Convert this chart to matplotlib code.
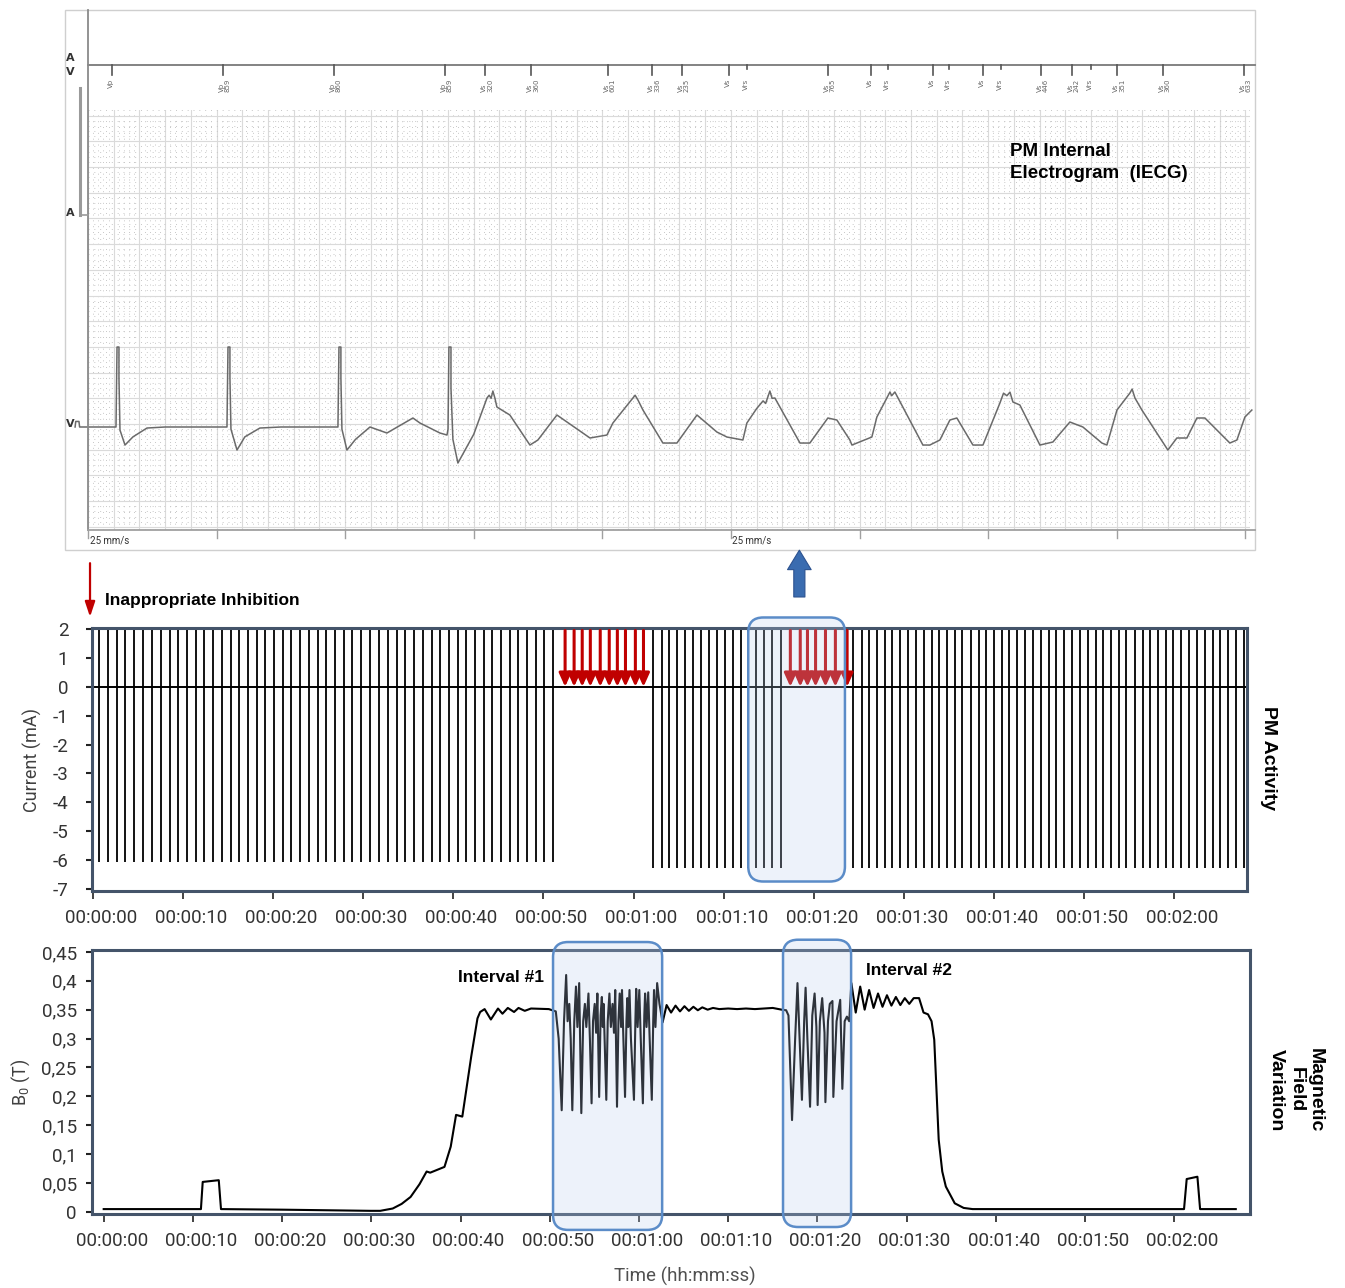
import matplotlib
matplotlib.use("Agg")
import matplotlib.pyplot as plt
from matplotlib.patches import FancyBboxPatch, Rectangle
from matplotlib.transforms import ScaledTranslation, blended_transform_factory
from matplotlib.ticker import MultipleLocator

plt.rcParams['font.family'] = ['Roboto', 'DejaVu Sans']
plt.rcParams['mathtext.default'] = 'regular'

# ---------------- Datos ----------------
# IECG: (tiempo s, tension mV)
ecg_pts = [(-0.10, -0.058), (-0.095, 0.05), (-0.07, 0.05), (-0.065, -0.058),
           (0.0, -0.058), (0.218, -0.058), (0.226, 1.498), (0.241, 1.498), (0.241, 0.9),
           (0.249, -0.117), (0.288, -0.409), (0.35, -0.25), (0.459, -0.078), (0.6, -0.058),
           (1.081, -0.058), (1.089, 1.498), (1.104, 1.498), (1.104, 0.9), (1.112, -0.1),
           (1.159, -0.506), (1.22, -0.25), (1.337, -0.078), (1.5, -0.058),
           (1.944, -0.058), (1.952, 1.498), (1.967, 1.498), (1.967, 0.9), (1.975, -0.1),
           (2.014, -0.506), (2.08, -0.3), (2.193, -0.058), (2.325, -0.175), (2.527, 0.117),
           (2.582, 0.019), (2.737, -0.175), (2.792, -0.214), (2.8, -0.1), (2.807, 1.498),
           (2.823, 1.498), (2.823, 0.7), (2.838, -0.3), (2.877, -0.759), (3.0, -0.2),
           (3.103, 0.506), (3.12, 0.56), (3.135, 0.50), (3.149, 0.642), (3.165, 0.50),
           (3.180, 0.331), (3.281, 0.175), (3.437, -0.409), (3.499, -0.311), (3.647, 0.175),
           (3.904, -0.272), (4.036, -0.214), (4.082, 0.019), (4.238, 0.506), (4.255, 0.56),
           (4.277, 0.467), (4.316, 0.272), (4.471, -0.370), (4.580, -0.370), (4.736, 0.175),
           (4.891, -0.156), (4.969, -0.253), (5.093, -0.311), (5.124, 0.019), (5.2, 0.3),
           (5.25, 0.45), (5.27, 0.40), (5.303, 0.642), (5.32, 0.5), (5.342, 0.506),
           (5.537, -0.370), (5.614, -0.370), (5.754, 0.117), (5.824, 0.078), (5.925, -0.311),
           (5.941, -0.409), (6.096, -0.253), (6.135, 0.136), (6.237, 0.623), (6.25, 0.55),
           (6.275, 0.623), (6.493, -0.409), (6.547, -0.409), (6.625, -0.311), (6.703, 0.078),
           (6.757, 0.117), (6.882, -0.409), (6.960, -0.409), (7.092, 0.409), (7.12, 0.6),
           (7.146, 0.55), (7.17, 0.62), (7.193, 0.428), (7.247, 0.370), (7.403, -0.409),
           (7.504, -0.350), (7.636, 0.039), (7.737, -0.058), (7.885, -0.370), (7.924, -0.409),
           (8.002, 0.272), (8.103, 0.603), (8.12, 0.68), (8.142, 0.506), (8.196, 0.272),
           (8.398, -0.506), (8.468, -0.272), (8.546, -0.272), (8.624, 0.117), (8.686, 0.117),
           (8.880, -0.370), (8.935, -0.311), (8.997, 0.136), (9.051, 0.272)]

ecg_marker_t = [0.187, 1.050, 1.913, 2.776, 3.087, 3.445, 4.044, 4.386, 4.619, 4.984,
                5.124, 5.754, 6.089, 6.221, 6.571, 6.695, 6.960, 7.100, 7.411, 7.652,
                7.800, 8.002, 8.359, 8.989]
ecg_marker_lab = ['Vp', 'Vp\n859', 'Vp\n860', 'Vp\n859', 'Vs\n320', 'Vs\n360', 'Vs\n601',
                  'Vs\n336', 'Vs\n235', 'Vs', 'Vrs', 'Vs\n765', 'Vs', 'Vrs', 'Vs', 'Vrs',
                  'Vs', 'Vrs', 'Vs\n446', 'Vs\n242', 'Vrs', 'Vs\n351', 'Vs\n360', 'Vs\n633']
ecg_sec = [0, 1, 2, 3, 4, 5, 6, 7, 8, 9]

# Actividad del marcapasos (s)
pace_a = [0.7, 1.7, 2.7, 3.6, 4.6, 5.6, 6.5, 7.5, 8.5, 9.4, 10.4, 11.4, 12.3, 13.3, 14.3,
          15.3, 16.2, 17.2, 18.2, 19.1, 20.1, 21.1, 22.0, 23.0, 24.0, 25.0, 25.9, 26.9,
          27.9, 28.8, 29.8, 30.8, 31.7, 32.7, 33.7, 34.6, 35.6, 36.6, 37.6, 38.5, 39.5,
          40.5, 41.4, 42.4, 43.4, 44.3, 45.3, 46.3, 47.2, 48.2, 49.2, 50.1, 51.1]
inhib_a = [52.4, 53.4, 54.3, 55.2, 56.3, 57.3, 58.2, 59.1, 60.2, 61.1]
pace_b = [62.2, 63.1, 63.9, 64.8, 65.7, 66.6, 67.5, 68.4, 69.3, 70.1, 71.0, 71.9, 72.7,
          73.6, 74.5, 75.4, 76.4]
inhib_b = [77.4, 78.5, 79.3, 80.2, 81.3, 82.4, 83.7]
pace_c = [84.4, 85.3, 86.1, 87.0, 87.9, 88.7, 89.6, 90.5, 91.3, 92.2, 93.1, 93.9, 94.8,
          95.7, 96.5, 97.4, 98.3, 99.1, 100.0, 100.9, 101.7, 102.6, 103.5, 104.3, 105.2,
          106.1, 106.9, 107.8, 108.7, 109.5, 110.4, 111.3, 112.1, 113.0, 113.9, 114.7,
          115.6, 116.5, 117.3, 118.2, 119.1, 119.9, 120.8, 121.7, 122.5, 123.4, 124.3,
          125.1, 126.0, 126.9, 127.7]
pace_top = 1.95
pace_low_a = -6.05
pace_low_bc = -6.28

# Campo magnetico B0 (s, T)
b0_rise = [(0.0, 0.005), (10.9, 0.005), (11.1, 0.052), (12.9, 0.055), (13.15, 0.005),
           (20.0, 0.004), (29.9, 0.002), (31.0, 0.002), (32.4, 0.006), (33.4, 0.014),
           (34.4, 0.026), (35.4, 0.048), (36.2, 0.070), (36.6, 0.068), (38.2, 0.078),
           (38.9, 0.113), (39.5, 0.168), (40.2, 0.165), (41.2, 0.269), (41.9, 0.335),
           (42.2, 0.346), (42.7, 0.351), (43.4, 0.333), (44.2, 0.352), (44.7, 0.343),
           (45.3, 0.353), (46.0, 0.346), (46.5, 0.353), (47.2, 0.348), (47.9, 0.352),
           (49.9, 0.351), (50.68, 0.347)]
b0_int1 = [(51.0, 0.30), (51.34, 0.176), (51.6, 0.33), (51.84, 0.410), (52.0, 0.33),
           (52.19, 0.36), (52.35, 0.30), (52.53, 0.176), (52.75, 0.33), (52.94, 0.39),
           (53.1, 0.32), (53.3, 0.396), (53.54, 0.171), (53.75, 0.33), (53.94, 0.36),
           (54.1, 0.32), (54.34, 0.378), (54.5, 0.30), (54.69, 0.188), (54.85, 0.33),
           (55.04, 0.36), (55.2, 0.31), (55.34, 0.378), (55.54, 0.199), (55.7, 0.34),
           (55.84, 0.372), (55.95, 0.32), (56.04, 0.36), (56.34, 0.194), (56.5, 0.33),
           (56.69, 0.378), (56.85, 0.32), (57.04, 0.36), (57.2, 0.31), (57.34, 0.384),
           (57.54, 0.182), (57.7, 0.33), (57.84, 0.378), (58.0, 0.32), (58.1, 0.384),
           (58.44, 0.199), (58.6, 0.33), (58.69, 0.37), (58.8, 0.32), (58.94, 0.384),
           (59.1, 0.30), (59.44, 0.194), (59.6, 0.33), (59.69, 0.386), (59.85, 0.32),
           (60.04, 0.384), (60.2, 0.30), (60.44, 0.188), (60.6, 0.34), (60.69, 0.378),
           (60.85, 0.32), (61.04, 0.380), (61.2, 0.30), (61.44, 0.194), (61.6, 0.33),
           (61.69, 0.384), (61.85, 0.32), (62.04, 0.396), (62.3, 0.36), (62.65, 0.328)]
b0_mid = [(63.1, 0.358), (63.6, 0.345), (64.1, 0.357), (64.6, 0.347), (65.1, 0.356),
          (65.6, 0.348), (66.1, 0.355), (66.6, 0.349), (67.1, 0.354), (67.7, 0.350),
          (68.3, 0.353), (69.0, 0.351), (70.0, 0.352), (71.0, 0.351), (72.0, 0.352),
          (73.0, 0.351), (74.0, 0.352), (75.0, 0.353), (76.0, 0.350), (76.5, 0.349)]
b0_int2 = [(76.76, 0.340), (77.16, 0.159), (77.51, 0.30), (77.77, 0.396), (78.01, 0.30),
           (78.27, 0.194), (78.52, 0.33), (78.68, 0.388), (78.88, 0.30), (79.18, 0.182),
           (79.43, 0.34), (79.69, 0.378), (79.89, 0.32), (80.03, 0.185), (80.28, 0.33),
           (80.54, 0.370), (80.80, 0.31), (80.90, 0.19), (81.19, 0.33), (81.39, 0.36),
           (81.69, 0.365), (81.79, 0.199), (82.15, 0.33), (82.56, 0.367), (82.80, 0.213),
           (83.06, 0.33), (83.31, 0.338), (83.57, 0.33)]
b0_fall = [(83.81, 0.396), (84.3, 0.345), (84.8, 0.39), (85.3, 0.35), (85.8, 0.384),
           (86.3, 0.353), (86.8, 0.378), (87.3, 0.355), (87.8, 0.375), (88.3, 0.357),
           (88.8, 0.372), (89.3, 0.358), (89.8, 0.370), (90.3, 0.36), (90.8, 0.370),
           (91.4, 0.37), (91.9, 0.345), (92.4, 0.342), (92.8, 0.33), (93.1, 0.298),
           (93.6, 0.125), (94.0, 0.07), (94.4, 0.044), (95.4, 0.015), (96.4, 0.007),
           (97.4, 0.005), (110.0, 0.005), (121.1, 0.005), (121.4, 0.057), (122.6, 0.061),
           (122.9, 0.005), (126.9, 0.005)]

time_ticks = [0, 10, 20, 30, 40, 50, 60, 70, 80, 90, 100, 110, 120]
time_labels = ['00:00:00', '00:00:10', '00:00:20', '00:00:30', '00:00:40', '00:00:50',
               '00:01:00', '00:01:10', '00:01:20', '00:01:30', '00:01:40', '00:01:50',
               '00:02:00']
cur_ticks = [2, 1, 0, -1, -2, -3, -4, -5, -6, -7]
cur_labels = ['2', '1', '0', '-1', '-2', '-3', '-4', '-5', '-6', '-7']
b0_ticks = [0, 0.05, 0.1, 0.15, 0.2, 0.25, 0.3, 0.35, 0.4, 0.45]
b0_labels = ['0', '0,05', '0,1', '0,15', '0,2', '0,25', '0,3', '0,35', '0,4', '0,45']

box_mid = (72.73, 83.46, -6.74, 2.40)
box_int1 = (50.37, 62.6, -0.031, 0.467)
box_int2 = (76.15, 83.78, -0.026, 0.471)

# ---------------- Figura ----------------
fig = plt.figure(figsize=(13.45, 12.88), dpi=100)
spine_col = '#44546a'
red = '#c00000'
bold_font = 'Liberation Sans'


def caja(ax, b, rad, aspect):
    p = FancyBboxPatch((b[0], b[2]), b[1] - b[0], b[3] - b[2],
                       boxstyle='round,pad=0,rounding_size=%g' % rad,
                       mutation_aspect=aspect, fc=(0.72, 0.80, 0.93, 0.25),
                       ec='#5b8cc8', lw=1.8, clip_on=False, zorder=6)
    ax.add_patch(p)


def mover_etiquetas(ax):
    off = ScaledTranslation(8 / 100, 0, fig.dpi_scale_trans)
    for lab in ax.get_xticklabels():
        lab.set_transform(lab.get_transform() + off)


# ===== IECG =====
ax0 = fig.add_axes([0.0654, 0.5885, 0.8639, 0.3261])
ax0.set_xlim(0, 9.036)
ax0.set_ylim(-2.062, 6.109)
ax0.xaxis.set_major_locator(MultipleLocator(0.2))
ax0.xaxis.set_minor_locator(MultipleLocator(0.04))
ax0.yaxis.set_major_locator(MultipleLocator(0.5))
ax0.yaxis.set_minor_locator(MultipleLocator(0.1))
ax0.grid(which='major', color='#dadada', lw=0.8)
ax0.grid(which='minor', color='#c8c8c8', lw=0.7, ls=(0, (1, 5)))
ax0.tick_params(which='both', length=0, labelbottom=False, labelleft=False)
for s in ax0.spines.values():
    s.set_visible(False)
ax0.set_axisbelow(True)

ex, ey = zip(*ecg_pts)
ax0.plot(ex, ey, color='#6a6a6a', lw=1.1, clip_on=False)

tr0 = blended_transform_factory(ax0.transData, ax0.transAxes)
ax0.plot([0, 1.0043], [1.107, 1.107], transform=ax0.transAxes, color='#7a7a7a', lw=1.3, clip_on=False)
lab_off = ScaledTranslation(-4 / 100, 0, fig.dpi_scale_trans)
for t, lab in zip(ecg_marker_t, ecg_marker_lab):
    low = 1.097 if lab.startswith('Vrs') else 1.083
    ax0.plot([t, t], [1.107, low], transform=tr0, color='#555555', lw=1.2, clip_on=False)
    ax0.text(t, 1.074, lab, transform=tr0 + lab_off, rotation=90, ha='left', va='top',
             fontsize=5, color='#666666', family='DejaVu Sans', linespacing=1.0)

ax0.plot([0, 0], [0, 1.238], transform=ax0.transAxes, color='#8a8a8a', lw=1.3, clip_on=False)
ax0.plot([-0.0069, -0.0069], [1.052, 0.75], transform=ax0.transAxes, color='#9a9a9a', lw=2.2, clip_on=False)
ax0.plot([-0.0069, 0], [0.75, 0.75], transform=ax0.transAxes, color='#9a9a9a', lw=1.2, clip_on=False)
for txt, yy in [('A', 1.124), ('V', 1.090), ('A', 0.755), ('V', 0.252)]:
    ax0.text(-0.0155, yy, txt, transform=ax0.transAxes, ha='center', va='center',
             fontsize=8, fontweight='bold', color='#333333', family='DejaVu Sans')

ax0.plot([0, 1.0043], [0, 0], transform=ax0.transAxes, color='#a0a0a0', lw=1.3, clip_on=False)
for s in ecg_sec:
    ax0.plot([s, s], [0, -0.019], transform=tr0, color='#a0a0a0', lw=1.0, clip_on=False)
ax0.text(0.0017, -0.026, '25 mm/s', transform=ax0.transAxes, fontsize=7, va='center', color='#333333')
ax0.text(0.554, -0.026, '25 mm/s', transform=ax0.transAxes, fontsize=7, va='center', color='#333333')
ax0.add_patch(Rectangle((-0.0198, -0.0476), 1.0241, 1.2857, transform=ax0.transAxes,
                        fill=False, ec='#cfcfcf', lw=1.0, clip_on=False))
ax0.text(0.7935, 0.921, 'PM Internal\nElectrogram  (IECG)', transform=ax0.transAxes,
         ha='left', va='top', fontsize=13.5, fontweight='bold', family=bold_font, linespacing=1.35)

# ===== Actividad PM =====
ax1 = fig.add_axes([0.0684, 0.3082, 0.8587, 0.2042])
ax1.set_xlim(-0.11, 128.08)
ax1.set_ylim(-7.07, 2.035)
ax1.axhline(0, color='k', lw=1.4, zorder=2)
ax1.vlines(pace_a, pace_low_a, pace_top, color='k', lw=1.3, zorder=3)
ax1.vlines(pace_b + pace_c, pace_low_bc, pace_top, color='k', lw=1.3, zorder=3)
for t in inhib_a + inhib_b:
    ax1.annotate('', xy=(t, 0), xytext=(t, pace_top),
                 arrowprops=dict(arrowstyle='-|>,head_width=0.36,head_length=0.8',
                                 color=red, lw=2.2, shrinkA=0, shrinkB=0),
                 annotation_clip=False, zorder=4)
caja(ax1, box_mid, 1.66, 0.3119)

ax1.annotate('', xy=(-0.33, 2.42), xytext=(-0.33, 4.28),
             arrowprops=dict(arrowstyle='-|>,head_width=0.3,head_length=0.9',
                             color=red, lw=1.6, shrinkA=0, shrinkB=0), annotation_clip=False)
ax1.text(1.33, 3.0, 'Inappropriate Inhibition', fontsize=12.5, fontweight='bold',
         family=bold_font, va='center', ha='left', clip_on=False)
ax1.annotate('', xy=(78.4, 4.73), xytext=(78.4, 3.11),
             arrowprops=dict(arrowstyle='simple,head_length=0.7,head_width=0.85,tail_width=0.4',
                             mutation_scale=20, fc='#3a6cb0', ec='#2c5290', lw=0.8,
                             shrinkA=0, shrinkB=0), annotation_clip=False)

ax1.set_xticks(time_ticks, labels=time_labels)
ax1.set_yticks(cur_ticks, labels=cur_labels)
ax1.tick_params(axis='x', direction='out', length=6, width=1.2, color='#222222',
                labelsize=13.5, labelcolor='#333333', pad=7)
ax1.tick_params(axis='y', direction='out', length=4, width=1.5, color='#222222',
                labelsize=13.5, labelcolor='#333333', pad=13)
mover_etiquetas(ax1)
for s in ax1.spines.values():
    s.set_color(spine_col)
    s.set_linewidth(2.2)
ax1.set_ylabel('Current (mA)', fontsize=13, color='#404040')
ax1.yaxis.set_label_coords(-0.043, 0.5)
fig.text(0.9428, 0.4115, 'PM Activity', rotation=-90, ha='center', va='center',
         fontsize=14, fontweight='bold', family=bold_font)

# ===== Campo magnetico =====
ax2 = fig.add_axes([0.0684, 0.05745, 0.861, 0.205])
ax2.set_xlim(-1.31, 128.5)
ax2.set_ylim(-0.0035, 0.4533)
bt, bv = zip(*(b0_rise + b0_int1 + b0_mid + b0_int2 + b0_fall))
ax2.plot(bt, bv, color='k', lw=1.5, zorder=3)
caja(ax2, box_int1, 1.68, 0.01543)
caja(ax2, box_int2, 1.68, 0.01543)
ax2.text(39.7, 0.405, 'Interval #1', fontsize=12.5, fontweight='bold', family=bold_font,
         va='center', ha='left')
ax2.text(85.5, 0.417, 'Interval #2', fontsize=12.5, fontweight='bold', family=bold_font,
         va='center', ha='left')

ax2.set_xticks(time_ticks, labels=time_labels)
ax2.set_yticks(b0_ticks, labels=b0_labels)
ax2.tick_params(axis='x', direction='out', length=6, width=1.2, color='#222222',
                labelsize=13.5, labelcolor='#333333', pad=7)
ax2.tick_params(axis='y', direction='out', length=4, width=1.5, color='#222222',
                labelsize=13.5, labelcolor='#333333', pad=7)
mover_etiquetas(ax2)
for s in ax2.spines.values():
    s.set_color(spine_col)
    s.set_linewidth(2.2)
ax2.set_ylabel('B$_0$ (T)', fontsize=13, color='#404040')
ax2.yaxis.set_label_coords(-0.052, 0.5)
ax2.set_xlabel('Time (hh:mm:ss)', fontsize=13.5, color='#505050')
ax2.xaxis.set_label_coords(0.512, -0.2)
fig.text(0.9636, 0.1537, 'Magnetic\nField\nVariation', rotation=-90, ha='center', va='center',
         multialignment='center', fontsize=14, fontweight='bold', family=bold_font)

fig.savefig('out.png', dpi=100)
